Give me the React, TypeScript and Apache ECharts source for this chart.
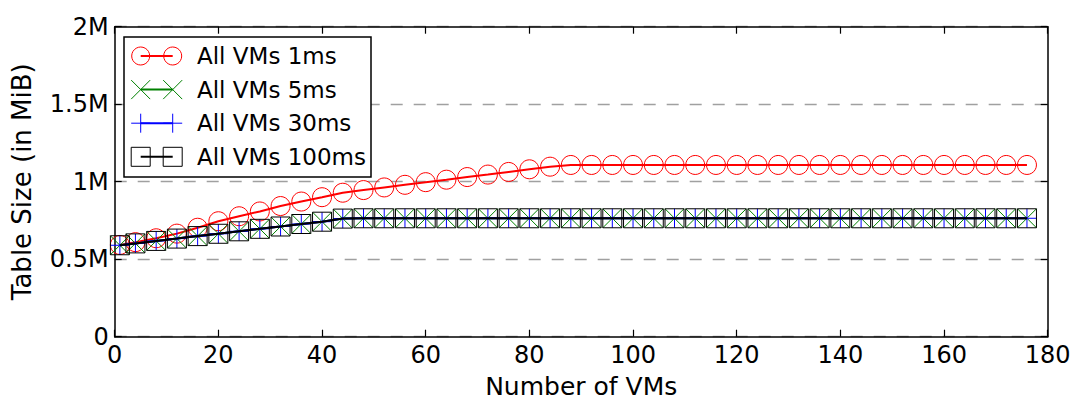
import React, { useEffect, useRef } from "react";
import * as echarts from "echarts";

// Number of VMs (x positions of the samples)
const vmCounts = [
  1, 4, 8, 12, 16, 20, 24, 28, 32, 36, 40, 44, 48, 52, 56, 60, 64, 68, 72, 76, 80, 84,
  88, 92, 96, 100, 104, 108, 112, 116, 120, 124, 128, 132, 136, 140, 144, 148, 152,
  156, 160, 164, 168, 172, 176,
];

// Table size in millions (M)
const allVms1ms = [
  0.592, 0.61, 0.635, 0.665, 0.703, 0.745, 0.777, 0.808, 0.843, 0.872, 0.9, 0.929,
  0.946, 0.963, 0.98, 0.997, 1.013, 1.03, 1.046, 1.063, 1.08, 1.097,
  1.108, 1.108, 1.108, 1.108, 1.108, 1.108, 1.108, 1.108, 1.108, 1.108, 1.108, 1.108,
  1.108, 1.108, 1.108, 1.108, 1.108, 1.108, 1.108, 1.108, 1.108, 1.108, 1.108,
];
const allVms5ms = [
  0.59, 0.602, 0.618, 0.633, 0.649, 0.664, 0.68, 0.696, 0.711, 0.727, 0.742, 0.762,
  0.764, 0.764, 0.764, 0.764, 0.764, 0.764, 0.764, 0.764, 0.764, 0.764, 0.764, 0.764,
  0.764, 0.764, 0.764, 0.764, 0.764, 0.764, 0.764, 0.764, 0.764, 0.764, 0.764, 0.764,
  0.764, 0.764, 0.764, 0.764, 0.764, 0.764, 0.764, 0.764, 0.764,
];
const allVms30ms = [
  0.59, 0.602, 0.618, 0.633, 0.649, 0.664, 0.68, 0.696, 0.711, 0.727, 0.742, 0.762,
  0.764, 0.764, 0.764, 0.764, 0.764, 0.764, 0.764, 0.764, 0.764, 0.764, 0.764, 0.764,
  0.764, 0.764, 0.764, 0.764, 0.764, 0.764, 0.764, 0.764, 0.764, 0.764, 0.764, 0.764,
  0.764, 0.764, 0.764, 0.764, 0.764, 0.764, 0.764, 0.764, 0.764,
];
const allVms100ms = [
  0.59, 0.602, 0.618, 0.633, 0.649, 0.664, 0.68, 0.696, 0.711, 0.727, 0.742, 0.762,
  0.764, 0.764, 0.764, 0.764, 0.764, 0.764, 0.764, 0.764, 0.764, 0.764, 0.764, 0.764,
  0.764, 0.764, 0.764, 0.764, 0.764, 0.764, 0.764, 0.764, 0.764, 0.764, 0.764, 0.764,
  0.764, 0.764, 0.764, 0.764, 0.764, 0.764, 0.764, 0.764, 0.764,
];

const seriesNames = ["All VMs 1ms", "All VMs 5ms", "All VMs 30ms", "All VMs 100ms"];
const seriesColors = ["#ff0000", "#008000", "#0000ff", "#000000"];
const seriesData = [allVms1ms, allVms5ms, allVms30ms, allVms100ms];
const markerKinds = ["circle", "x", "plus", "square"];

const xTitle = "Number of VMs";
const yTitle = "Table Size (in MiB)";

const FONT = "DejaVu Sans";

const symbolFor = (kind: string) => {
  if (kind === "circle") return "circle";
  if (kind === "square") return "rect";
  if (kind === "x") return "path://M0,0L10,10M0,10L10,0";
  return "path://M5,0L5,10M0,5L10,5";
};

function legendMarker(kind: string, cx: number, cy: number, color: string) {
  const r = 9.5;
  const s = { stroke: color, lineWidth: 1, fill: "none" };
  if (kind === "circle") return [{ type: "circle", z: 101, shape: { cx, cy, r: r - 0.5 }, style: s }];
  if (kind === "square")
    return [{ type: "rect", z: 101, shape: { x: cx - r, y: cy - r, width: 2 * r, height: 2 * r }, style: s }];
  if (kind === "x")
    return [
      { type: "line", z: 101, shape: { x1: cx - r, y1: cy - r, x2: cx + r, y2: cy + r }, style: s },
      { type: "line", z: 101, shape: { x1: cx - r, y1: cy + r, x2: cx + r, y2: cy - r }, style: s },
    ];
  return [
    { type: "line", z: 101, shape: { x1: cx, y1: cy - r, x2: cx, y2: cy + r }, style: s },
    { type: "line", z: 101, shape: { x1: cx - r, y1: cy, x2: cx + r, y2: cy }, style: s },
  ];
}

export default function App() {
  const ref = useRef<HTMLDivElement>(null);

  useEffect(() => {
    if (!ref.current) return;
    const chart = echarts.init(ref.current, undefined, { renderer: "svg" });

    const legendEls: any[] = [
      {
        type: "rect",
        z: 100,
        shape: { x: 124, y: 37, width: 247, height: 140 },
        style: { fill: "#ffffff", stroke: "#000000", lineWidth: 1.5 },
      },
    ];
    seriesNames.forEach((name, i) => {
      const cy = 56 + i * 33.6;
      const x1 = 140.7;
      const x2 = 172.7;
      legendEls.push({
        type: "line",
        z: 101,
        shape: { x1, y1: cy, x2, y2: cy },
        style: { stroke: seriesColors[i], lineWidth: 2 },
      });
      legendEls.push(...legendMarker(markerKinds[i], x1, cy, seriesColors[i]));
      legendEls.push(...legendMarker(markerKinds[i], x2, cy, seriesColors[i]));
      legendEls.push({
        type: "text",
        z: 101,
        style: {
          text: name,
          x: 197,
          y: cy,
          font: `23px "${FONT}"`,
          fill: "#000000",
          textAlign: "left",
          textVerticalAlign: "middle",
          verticalAlign: "middle",
        },
      });
    });

    const axisLineStyle = { color: "#000000", width: 1.5 };
    const tickStyle = { color: "#000000", width: 1.2 };

    const option: any = {
      animation: false,
      backgroundColor: "#ffffff",
      textStyle: { fontFamily: FONT },
      grid: {
        left: 114.7,
        right: 28.3,
        top: 26.7,
        bottom: 64.3,
        containLabel: false,
        outerBoundsMode: "none",
      },
      xAxis: [
        {
          type: "value",
          min: 0,
          max: 180,
          interval: 20,
          name: xTitle,
          nameLocation: "middle",
          nameGap: 38,
          nameTextStyle: { fontSize: 25, lineHeight: 24, color: "#000000", fontFamily: FONT },
          axisLine: { show: true, onZero: false, lineStyle: axisLineStyle },
          axisTick: { show: true, inside: true, length: 7, lineStyle: tickStyle },
          axisLabel: { fontSize: 24, color: "#000000", margin: 6, fontFamily: FONT },
          splitLine: { show: false },
        },
        {
          type: "value",
          position: "top",
          min: 0,
          max: 180,
          interval: 20,
          axisLine: { show: true, onZero: false, lineStyle: axisLineStyle },
          axisTick: { show: true, inside: true, length: 7, lineStyle: tickStyle },
          axisLabel: { show: false },
          splitLine: { show: false },
        },
      ],
      yAxis: [
        {
          type: "value",
          min: 0,
          max: 2,
          interval: 0.5,
          name: yTitle,
          nameLocation: "middle",
          nameGap: 80,
          nameRotate: 90,
          nameTextStyle: { fontSize: 26, color: "#000000", fontFamily: FONT },
          axisLine: { show: true, onZero: false, lineStyle: axisLineStyle },
          axisTick: { show: true, inside: true, length: 7, lineStyle: tickStyle },
          axisLabel: {
            fontSize: 24,
            color: "#000000",
            margin: 6,
            fontFamily: FONT,
            formatter: (v: number) => (v === 0 ? "0" : `${v}M`),
          },
          splitLine: {
            show: true,
            lineStyle: { color: "#a0a0a0", width: 1.3, type: [12, 11] },
          },
        },
        {
          type: "value",
          position: "right",
          min: 0,
          max: 2,
          interval: 0.5,
          axisLine: { show: true, onZero: false, lineStyle: axisLineStyle },
          axisTick: { show: true, inside: true, length: 7, lineStyle: tickStyle },
          axisLabel: { show: false },
          splitLine: { show: false },
        },
      ],
      series: seriesNames.map((name, i) => ({
        name,
        type: "line",
        xAxisIndex: 0,
        yAxisIndex: 0,
        data: vmCounts.map((x, j) => [x, seriesData[i][j]]),
        symbol: symbolFor(markerKinds[i]),
        symbolSize: 19,
        showSymbol: true,
        showAllSymbol: true,
        clip: true,
        lineStyle: { color: seriesColors[i], width: 2 },
        itemStyle: {
          color: "rgba(0,0,0,0)",
          borderColor: seriesColors[i],
          borderWidth: 1,
        },
        emphasis: { disabled: true },
        z: 2 + i,
      })),
      graphic: legendEls,
    };

    chart.setOption(option);
    return () => chart.dispose();
  }, []);

  return (
    <div
      ref={ref}
      style={{ position: "fixed", left: 0, top: 0, width: 1076, height: 401, background: "#fff" }}
    />
  );
}
